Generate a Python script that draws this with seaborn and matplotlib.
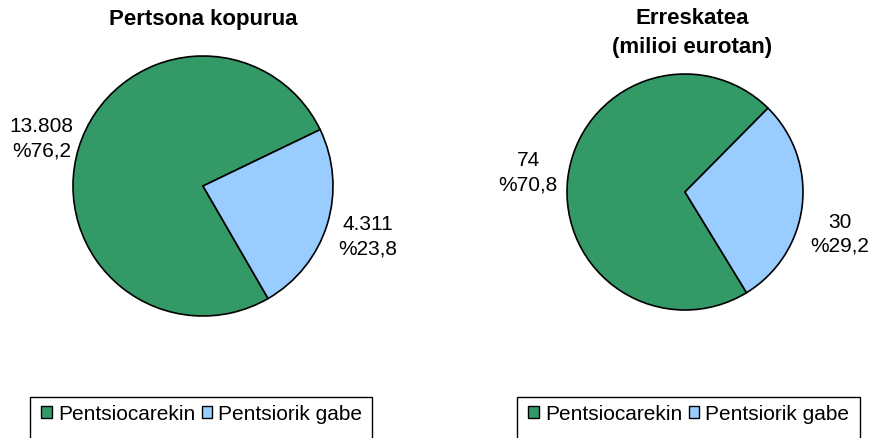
import matplotlib
matplotlib.use("Agg")
import matplotlib.pyplot as plt
from matplotlib.patches import Rectangle, Patch
import seaborn as sns

sns.set_theme(style="white")
plt.rcParams['font.family'] = ['Liberation Sans', 'DejaVu Sans']
plt.rcParams['text.color'] = 'black'

categories = ["Pentsiocarekin", "Pentsiorik gabe"]
persons = [13808, 4311]
persons_labels = ["13.808\n%76,2", "4.311\n%23,8"]
amount = [74, 30]
amount_pct = [70.8, 29.2]
amount_labels = ["74\n%70,8", "30\n%29,2"]
titles = ["Pertsona kopurua", "Erreskatea\n(milioi eurotan)"]
colors = ["#339966", "#99CCFF"]

W, H = 877, 439
fig = plt.figure(figsize=(W / 100, H / 100), dpi=100)
fig.patch.set_facecolor("white")


def add_pie(cx, cy, r, values, labels, start, label_pos):
    ax = fig.add_axes([(cx - r) / W, (H - cy - r) / H, 2 * r / W, 2 * r / H])
    ax.pie(values, colors=colors, startangle=start, counterclock=True,
           wedgeprops=dict(edgecolor="black", linewidth=1.2))
    ax.set_xlim(-1, 1)
    ax.set_ylim(-1, 1)
    ax.set_aspect("equal")
    ax.axis("off")
    for lab, (x, y) in zip(labels, label_pos):
        ax.text(x, y, lab, ha="center", va="center", fontsize=15,
                linespacing=1.35, color="black")
    return ax


add_pie(203, 187, 130, persons, persons_labels, 25.7,
        [(-1.24, 0.37), (1.27, -0.38)])
add_pie(685, 193, 118, amount, amount_labels, 45.3,
        [(-1.33, 0.17), (1.31, -0.35)])

fig.text(203 / W, 1 - 19 / H, titles[0], ha="center", va="center",
         fontsize=16, fontweight="bold", color="black")
fig.text(692 / W, 1 - 33 / H, titles[1], ha="center", va="center",
         fontsize=16, fontweight="bold", linespacing=1.55, color="black")

handles = [Patch(facecolor=c, edgecolor="black", linewidth=1.0) for c in colors]
for x0, x1 in [(30, 372), (517, 860)]:
    fig.patches.append(Rectangle((x0 / W, -20 / H), (x1 - x0) / W, (H - 398 + 20) / H,
                                 transform=fig.transFigure, facecolor="none",
                                 edgecolor="black", linewidth=1.0, clip_on=False))
    fig.legend(handles, categories, loc="center left",
               bbox_to_anchor=(x0 / W, 1 - 415 / H), ncol=2, frameon=False,
               fontsize=15, handlelength=0.5, handleheight=0.5,
               handletextpad=0.3, columnspacing=0.3, borderaxespad=0.15,
               labelcolor="black")

fig.savefig("out.png", dpi=100)
